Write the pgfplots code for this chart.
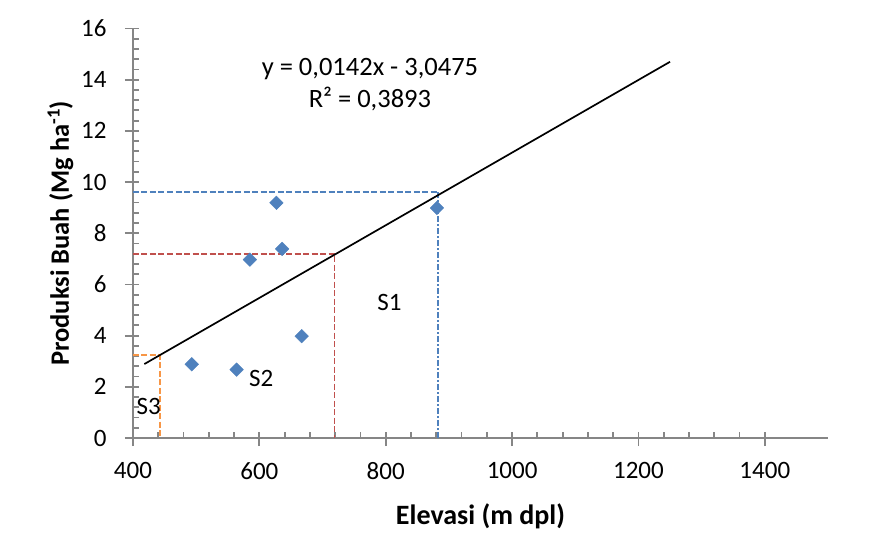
\documentclass[border=0pt]{standalone}
\usepackage{pgfplots}
\pgfplotsset{compat=1.18}
\usepackage{fontspec}
\setmainfont{Carlito}
\definecolor{exblue}{HTML}{4F81BD}
\definecolor{exred}{HTML}{C0504D}
\definecolor{exorange}{HTML}{F79646}
\definecolor{axgray}{HTML}{868686}
\begin{document}
\fontsize{25}{29}\selectfont
\begin{tikzpicture}
\path[use as bounding box] (-133pt,-119pt) rectangle (736pt,438pt);
\begin{axis}[
  at={(0,0)}, anchor=south west,
  scale only axis, width=695pt, height=409.5pt,
  xmin=400, xmax=1500, ymin=0, ymax=16,
  axis x line*=bottom, axis y line*=left,
  axis line style={color=axgray, line width=2pt},
  xtick={400,600,...,1400}, ytick={0,2,...,16},
  minor x tick num=4, minor y tick num=4,
  tick align=inside,
  major tick length=14pt, minor tick length=6.5pt,
  tick style={color=axgray, line width=1.8pt},
  every major x tick/.append style={yshift=-8pt},
  every major y tick/.append style={xshift=-8pt},
  /pgf/number format/assume math mode=true,
  /pgf/number format/set thousands separator={},
  xticklabel style={yshift=-16pt},
  yticklabel style={xshift=-18pt},
  xlabel={\fontsize{28}{32}\selectfont\bfseries Elevasi (m dpl)},
  ylabel={\fontsize{26.5}{31}\selectfont\bfseries Produksi Buah (Mg ha\textsuperscript{-1})},
  xlabel style={yshift=-7pt},
  ylabel style={yshift=-9pt},
  clip=false,
]
% dashed guide lines
\addplot[exblue, line width=1.8pt, dash pattern=on 6pt off 2.5pt] coordinates {(400,9.6) (883,9.6)};
\addplot[exblue, line width=1.8pt, dash pattern=on 6pt off 2pt on 2pt off 2pt] coordinates {(883,9.6) (883,0)};
\addplot[exred, line width=1.8pt, dash pattern=on 6pt off 2.5pt] coordinates {(400,7.2) (719,7.2) (719,0)};
\addplot[exorange, line width=1.8pt, dash pattern=on 6pt off 2.5pt] coordinates {(400,3.23) (443,3.23) (443,0)};
% trendline
\addplot[black, line width=1.7pt] coordinates {(418,2.89) (1250,14.70)};
% data
\addplot[only marks, mark=square*, mark size=4.8pt, mark options={rotate=45, fill=exblue, draw=exblue}] coordinates {
(493,2.88) (564,2.67) (585,6.97) (627,9.19) (636,7.39) (667,3.98) (881,8.99)
};
\node[align=center, inner sep=0pt, font=\fontsize{26.5}{31}\selectfont] at (axis cs:775,13.8) {y = 0,0142x - 3,0475\\[1pt]R² = 0,3893};
\node at (axis cs:806,5.30) {S1};
\node at (axis cs:603,2.32) {S2};
\node at (axis cs:425,1.22) {S3};
\end{axis}
\end{tikzpicture}
\end{document}
